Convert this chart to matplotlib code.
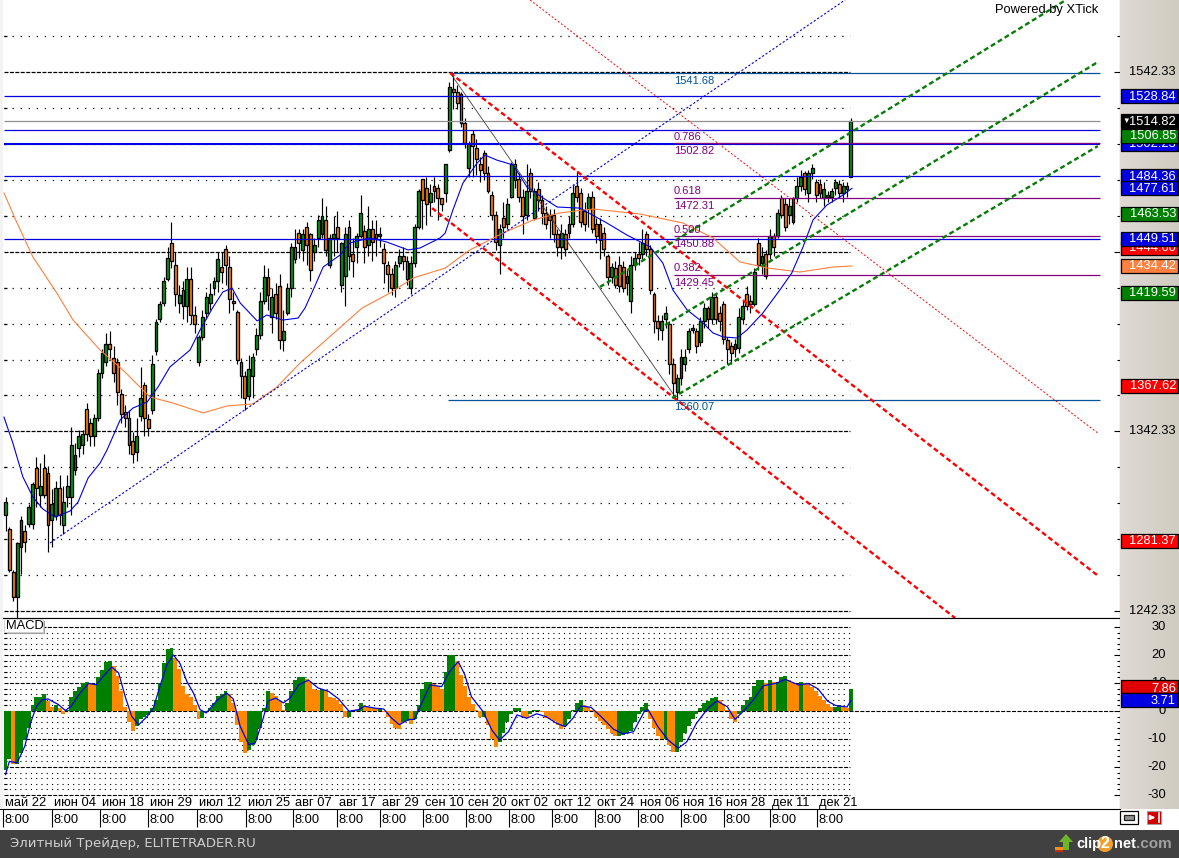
import numpy as np
import matplotlib
matplotlib.use('Agg')
import matplotlib.pyplot as plt
from matplotlib.colors import LinearSegmentedColormap
from matplotlib.patches import Rectangle, Polygon, Circle

plt.rcParams['font.family'] = ['Liberation Sans', 'DejaVu Sans']
plt.rcParams['lines.scale_dashes'] = False

# daily candles
opens = [1296,1288,1264,1250,1278,1287,1291,1291,1322,1307,1322,1319,1293,1295,1311,1290,1306,1306,1321,1333,
         1335,1355,1347,1340,1350,1375,1381,1391,1383,1381,1363,1353,1350,1337,1331,1351,1368,1349,1354,1387,
         1405,1414,1427,1447,1435,1414,1421,1412,1427,1407,1381,1395,1408,1414,1422,1426,1434,1444,1434,1415,
         1409,1381,1373,1362,1373,1388,1396,1415,1428,1406,1419,1423,1393,1408,1422,1445,1453,1443,1456,1452,
         1442,1450,1452,1460,1435,1450,1456,1424,1429,1456,1441,1445,1451,1454,1446,1455,1452,1451,1444,1435,
         1430,1422,1436,1440,1437,1422,1436,1456,1483,1478,1470,1479,1478,1472,1475,1499,1533,1531,1530,1514,
         1489,1508,1500,1491,1497,1486,1474,1463,1446,1461,1458,1473,1491,1483,1473,1463,1486,1461,1477,1471,
         1464,1463,1463,1452,1445,1452,1453,1458,1479,1475,1465,1466,1473,1458,1458,1453,1440,1428,1433,1435,
         1434,1425,1415,1435,1441,1441,1452,1444,1419,1404,1399,1405,1402,1380,1364,1372,1380,1388,1399,1398,
         1392,1404,1411,1405,1417,1408,1413,1393,1390,1388,1389,1405,1419,1415,1413,1447,1436,1441,1441,1451,
         1451,1472,1469,1463,1459,1472,1479,1486,1475,1486,1481,1480,1472,1473,1473,1478,1480,1475,1479,1484]
highs = [1306,1289,1265,1281,1295,1290,1302,1314,1328,1325,1330,1323,1310,1315,1318,1312,1318,1345,1336,1343,
         1343,1358,1350,1352,1377,1388,1397,1398,1390,1383,1366,1357,1354,1342,1350,1378,1370,1352,1385,1405,
         1415,1428,1445,1459,1442,1424,1426,1434,1434,1412,1396,1410,1420,1425,1428,1442,1442,1446,1440,1420,
         1410,1383,1376,1385,1386,1400,1420,1435,1433,1422,1425,1430,1410,1425,1447,1455,1455,1455,1459,1453,
         1450,1463,1472,1468,1452,1462,1465,1448,1456,1460,1450,1453,1474,1457,1468,1460,1460,1456,1447,1437,
         1433,1437,1444,1445,1440,1440,1458,1477,1483,1484,1480,1484,1480,1472,1491,1537,1541.7,1535,1531,1517,
         1504,1510,1505,1495,1499,1490,1476,1465,1458,1470,1472,1492,1494,1486,1477,1491,1489,1478,1481,1474,
         1468,1466,1466,1455,1458,1455,1462,1480,1487,1478,1470,1475,1476,1461,1461,1456,1441,1436,1437,1440,
         1437,1432,1440,1442,1448,1455,1454,1446,1420,1407,1407,1412,1404,1383,1374,1388,1388,1400,1402,1400,
         1406,1414,1412,1420,1419,1412,1415,1395,1392,1394,1411,1415,1423,1418,1433,1450,1445,1443,1455,1453,
         1466,1474,1472,1472,1473,1484,1488,1487,1488,1491,1483,1483,1481,1476,1478,1483,1482,1481,1481,1517]
lows = [1287,1264,1248,1234,1263,1275,1289,1288,1300,1300,1305,1275,1278,1293,1290,1285,1300,1296,1318,1328,
        1330,1337,1334,1334,1348,1372,1379,1382,1370,1357,1347,1345,1330,1325,1326,1348,1340,1340,1352,1385,
        1403,1412,1426,1433,1412,1408,1405,1403,1402,1397,1379,1393,1405,1410,1418,1420,1425,1424,1408,1410,
        1380,1361,1354,1360,1361,1385,1394,1413,1410,1397,1405,1388,1387,1407,1417,1436,1439,1437,1435,1426,
        1437,1445,1450,1440,1433,1440,1442,1420,1412,1432,1428,1436,1450,1436,1440,1437,1440,1445,1425,1420,
        1418,1417,1434,1432,1424,1419,1434,1455,1455,1457,1462,1470,1460,1465,1470,1498,1522,1522,1512,1500,
        1484,1484,1485,1481,1482,1475,1460,1443,1430,1450,1455,1472,1478,1470,1452,1460,1472,1460,1465,1458,
        1455,1450,1448,1440,1438,1440,1450,1456,1470,1456,1454,1456,1453,1447,1438,1440,1424,1425,1422,1420,
        1420,1418,1408,1432,1435,1438,1440,1419,1397,1393,1393,1400,1374,1362,1360,1368,1376,1386,1397,1386,
        1390,1400,1400,1402,1402,1398,1391,1380,1380,1384,1386,1402,1410,1408,1412,1432,1430,1427,1438,1440,
        1450,1461,1454,1458,1458,1470,1476,1474,1470,1483,1470,1472,1468,1470,1470,1474,1472,1470,1473,1484]
closes = [1303,1265,1250,1280,1293,1281,1300,1313,1311,1312,1307,1290,1302,1311,1296,1303,1312,1335,1329,1340,
          1341,1341,1340,1350,1375,1386,1391,1388,1375,1364,1352,1350,1335,1330,1340,1361,1350,1344,1380,1403,
          1413,1426,1439,1437,1419,1418,1412,1427,1407,1402,1395,1406,1417,1419,1426,1438,1431,1435,1416,1414,
          1382,1373,1361,1377,1384,1396,1415,1428,1418,1417,1408,1393,1398,1422,1445,1438,1447,1452,1446,1432,
          1446,1460,1462,1443,1450,1452,1450,1447,1452,1440,1437,1451,1464,1445,1455,1448,1450,1452,1436,1430,
          1422,1435,1440,1437,1427,1436,1456,1476,1471,1469,1475,1476,1472,1469,1491,1534,1531,1525,1514,1503,
          1502,1501,1494,1488,1486,1476,1463,1448,1455,1456,1469,1491,1482,1473,1462,1476,1476,1476,1471,1464,
          1458,1460,1452,1445,1453,1444,1458,1475,1473,1459,1458,1473,1455,1451,1449,1444,1428,1434,1424,1423,
          1422,1429,1435,1439,1439,1447,1444,1421,1404,1400,1404,1408,1380,1369,1372,1384,1384,1398,1400,1390,
          1404,1411,1405,1417,1405,1404,1394,1388,1386,1391,1406,1412,1412,1413,1431,1435,1440,1429,1451,1445,
          1464,1463,1456,1468,1472,1479,1484,1477,1486,1489,1474,1475,1477,1474,1476,1481,1475,1479,1477,1514.8]

# moving averages as (bar, price) points
ma_fast_bar = [-0.4,1.9,4.5,7.1,9.7,12.8,16.7,18.8,21.4,24.5,26.3,29.7,33,36.7,39.5,42.6,47.8,50.4,53.8,56.3,58.7,60.8,65.2,67.7,71.9,75.8,
               77.6,79.7,82.3,86.7,89.2,94.4,98.8,104.3,107.4,112.6,113.9,115.9,118.5,122.2,124.2,127.3,131.5,135.1,139.3,142.9,148.8,155.8,
               161,167,170.3,172.9,176.6,179.9,183.3,185.9,189.5,192.1,196.2,200.6,203.7,206.6,209.2,212.8,217,219.3]
ma_fast = [1350.3,1335.9,1317,1305.8,1299.1,1294.7,1298,1303,1316.4,1324.7,1332,1348.7,1355.3,1358.7,1367,1378.2,1387.6,1398.8,1411.6,1419.9,1422.1,1413.8,1403.8,1407.1,1404.3,1405.4,
           1411,1421,1433.8,1440.5,1447.2,1450,1447.7,1443.3,1444.4,1450,1452.7,1465.5,1480.5,1491.7,1496.1,1493.3,1490.6,1478.3,1472.2,1467.2,1466.6,1458.3,
           1451.6,1445,1436,1421,1409.9,1404.3,1397.1,1394.9,1394.3,1398.8,1408.2,1421,1430.5,1444.9,1460,1468.3,1473.9,1477.6]
ma_slow_bar = [-0.4,3,7.1,13.3,17.5,24.5,30.4,37.4,43.4,51.2,57.4,64.1,70.3,76.3,92.4,99.6,105.6,113.9,120.3,128.9,136.7,143.6,152.2,164.4,175.5,183.3,190.3,197.3,205.8,214.4,219.3]
ma_slow = [1475,1458.3,1439.4,1419.3,1404.3,1387.6,1376.5,1361.5,1358.1,1352.6,1356.5,1357.6,1367,1380.4,1411,1419.3,1427.7,1433.2,1443.3,1452.7,1460,1463.9,1466.1,1463.3,1458.3,1450,1436.6,1433.3,1431,1433.8,1434.4]

# MACD histogram, one value per candle
macd_hist = [-21,-17,-19,-19,-15,-10.5,-6,2,5,5,6,3.5,1.5,2,1,-1,0.5,5,7,8.5,
             10,10.3,10,9.5,12,14.5,17.5,18,16,12.5,7,1.5,-4,-7,-5.5,-3,-2,-1.5,1,4,
             10,17,22,22.5,19,15,9,6,5,2,-3,-2.5,-0.5,1,3,5.5,6,7,6,3,
             -5,-11,-15,-14,-12,-10,-6,1,7,6.5,5.5,3.5,0.5,3,7,11,12,12,11.5,10.5,
             8,7.5,8,7.5,5,4.5,4,2.5,-2,-2,0.3,0.3,3,2.2,1.5,1.2,1,1,-0.5,-2,
             -4.5,-6,-6.5,-4,-3.5,-4.5,-3,2,8,10.5,10.5,9.5,9,8,14,20,20,18,13,9,
             5,2.5,0.5,-2,-2,-5,-10,-13,-11,-8,-4,-1,1,1,-2,-2.5,-1,0.5,0.5,-0.5,
             -2.5,-3,-3.5,-5,-6.5,-5.5,-3,0.5,3,4,2,1.5,0.5,-2,-3.5,-5,-6.5,-8,-9,-9,
             -8.5,-8,-7,-4,-1,1.5,3,-3,-6,-9,-10,-10,-12,-14.5,-14.5,-11,-8,-5.5,-3,-1,
             1,3,3.5,4.5,5,4,2.5,0.5,-3,-4,-1,2,4,5,9,11,11,10,11,10.5,
             10.5,12,12.5,11,10,9.3,10.3,10,9.5,8.5,7,5.5,4,2.5,1.5,1.5,2,1.8,1.2,7.86]
signal_bar = [0,1,3,5,6.5,8,9.5,11,13.7,15.5,17,19.3,21.5,23.6,25.3,27.5,29.3,31,32.7,34.5,36.6,38.3,40,41.8,43.5,45.2,47,48.7,50.4,52,54.8,57.3,59,60.8,63,64.7,66.4,68,70,72,73.7,76,78.5,81,83.7,86.3,89,91.5,93,95.8,98,100,102,
              104.5,106,108,110,113,115,117.3,119,120.7,123.7,126,128,130.3,132.5,135,137.6,140,142.8,145,147,149,151.7,154.3,157.5,160,162.7,165.6,166.5,169,171.7,174.3,176.5,179,182,184.3,187,189,191.5,193.7,196.3,199.7,202,205.4,208,210.5,213,215,218,219]
signal = [-22.7,-18,-18.5,-12.6,-4.3,1.7,4,4.3,2.3,0.2,1.7,6.4,9.8,9.4,12.4,15.7,13.6,5.2,-1.9,-4.9,-2.1,1,8.8,16.5,20,17,10.5,6.4,0.5,-0.7,3.8,6.4,4.3,-5.5,-12,-11.4,-4.3,3.5,4.6,2.9,4.6,9.4,11,8.2,7,4.3,-0.1,0.5,1.7,1,0.7,-2.5,-4.9,
          -3,-3,3.3,9.3,8.7,14,17.6,12.9,5.1,-0.2,-6.8,-10.4,-7.4,-1.4,-2.6,-1,-2,-4.4,-5.6,-2.6,1.8,1.3,-2,-6.5,-8.2,-7.4,0.1,0.4,-5.6,-10.4,-13.3,-11,-4.4,1,3.6,1.5,-3,0.4,3.9,9,9.9,11.3,9.3,9.8,7.9,3.5,2,1.4,3.71]

# levels and drawn lines
blue_levels = [1528.84, 1510.0, 1484.36, 1449.51]
blue_level_strong = 1502.23
last_level = 1514.82
top_level, bottom_level = 1541.68, 1360.07
fib_levels = [1502.82, 1472.31, 1450.88, 1429.45]
fib_names = ['0.786', '0.618', '0.500', '0.382']
fan_blue = ([11.5, 217.5], [1280.2, 1582.4])
fan_red = ([135.9, 283.0], [1582.4, 1341.4])
diag_thin = ([115.2, 173.7], [1541.8, 1360.9])
red_upper = ([115.2, 282.8], [1541.8, 1262.4])
red_lower = ([110.5, 246.0], [1466.6, 1238.5])
green_top = ([154.0, 274.7], [1422.7, 1582.4])
green_mid = ([170.9, 283.0], [1401.5, 1547.9])
green_low = ([172.7, 283.0], [1360.9, 1501.1])

# axis labels
date_bars = [-0.6,12,24.5,37,49.6,62.3,74.5,85.9,97,108.2,119.3,130.4,141.6,152.7,163.9,175,186.1,198,210.2]
date_labels = ['май 22','июн 04','июн 18','июн 29','июл 12','июл 25','авг 07','авг 17','авг 29','сен 10',
               'сен 20','окт 02','окт 12','окт 24','ноя 06','ноя 16','ноя 28','дек 11','дек 21']
price_major = [1242.33, 1342.33, 1442.33, 1542.33]
price_minor = [1262.33,1282.33,1302.33,1322.33,1362.33,1382.33,1402.33,1422.33,1462.33,1482.33,1502.33,1522.33,1562.33]
side_values = [1528.84, 1502.23, 1506.85, 1484.36, 1477.61, 1463.53, 1444.60, 1449.51, 1434.42, 1419.59, 1367.62, 1281.37, 1514.82]
side_colors = ['#0000e0','#0000e0','#008000','#0000e0','#0000e0','#008000','#ff0000','#0000e0','#ff8040','#008000','#ff0000','#ff0000','#000000']
macd_major = [30, 20, 10, 0, -10, -20, -30]
macd_minor = [28,26,24,22,18,16,14,12,8,6,4,2,-2,-4,-6,-8,-12,-14,-16,-18,-22,-24,-26,-28]

W, H = 1179, 858
GREEN, ORANGE = '#00a010', '#ff8000'
BAR_PX, BAR0 = 3.86, 5.5
PX_PER_PRICE = 1.797
FS = 9.3

fig = plt.figure(figsize=(W / 100, H / 100), dpi=100, facecolor='white')

def px_axes(x0, y0, x1, y1):
    return fig.add_axes([x0 / W, 1 - y1 / H, (x1 - x0) / W, (y1 - y0) / H])

bars = np.arange(len(closes))
xlim = (-BAR0 / BAR_PX, (1120 - BAR0) / BAR_PX)
dots = (0, (0.9, 4.9))
dash = (0, (2.9, 1.0))
grid_end = 218.8

# price panel
ax = px_axes(0, 0, 1120, 618)
ax.set_xlim(xlim)
ax.set_ylim(1542.33 - 546 / PX_PER_PRICE, 1542.33 + 72 / PX_PER_PRICE)
for s in ['top', 'left']:
    ax.spines[s].set_visible(False)
ax.set_xticks([])
ax.yaxis.tick_right()
ax.set_yticks(price_major)
ax.set_yticks(price_minor, minor=True)
ax.tick_params(axis='y', which='major', direction='in', length=4.3, width=0.8, labelright=False)
ax.tick_params(axis='y', which='minor', direction='in', length=2.2, width=0.8)

ax.hlines(price_minor, -0.4, grid_end, color='black', lw=0.9, linestyle=dots, zorder=1)
ax.hlines(price_minor, -0.4, 0.3, color='black', lw=0.9, zorder=1)
ax.hlines(price_major, -0.4, grid_end, color='black', lw=0.9, linestyle=dash, zorder=1)

is_up = np.array(closes) >= np.array(opens)
colors = [GREEN if u else ORANGE for u in is_up]
ax.vlines(bars, lows, highs, color='black', lw=0.85, zorder=2)
ax.bar(bars, np.array(closes) - np.array(opens), bottom=opens, width=0.74, color=colors,
       edgecolor='black', linewidth=0.95, zorder=3)

line_end = 283.5
ax.hlines(blue_levels, -0.4, line_end, color='#0000e0', lw=0.9, zorder=4)
ax.hlines(blue_level_strong, -0.4, line_end, color='#0000e0', lw=1.5, zorder=4)
ax.hlines(last_level, -0.4, line_end, color='#909090', lw=0.9, zorder=4)
ax.hlines(top_level, 115.2, line_end, color='#00529b', lw=0.9, zorder=4)
ax.hlines(bottom_level, 114.6, line_end, color='#00529b', lw=0.9, zorder=4)
ax.hlines(fib_levels, 173.2, line_end, color='#800080', lw=0.9, zorder=4)

ax.plot(ma_slow_bar, ma_slow, color='#ff7f3f', lw=0.8, zorder=5)
ax.plot(ma_fast_bar, ma_fast, color='#0000e0', lw=0.8, zorder=5)
ax.plot(*fan_blue, color='#0000e0', lw=0.8, linestyle=(0, (1.6, 1.4)), zorder=5)
ax.plot(*fan_red, color='#ff0000', lw=0.7, linestyle=(0, (1.4, 1.4)), zorder=5)
ax.plot(*diag_thin, color='#404040', lw=0.6, zorder=5)
ax.plot(*red_upper, color='#ff0000', lw=1.7, linestyle=(0, (3.6, 2.2)), zorder=6)
ax.plot(*red_lower, color='#ff0000', lw=1.7, linestyle=(0, (3.6, 2.2)), zorder=6)
for line in [green_top, green_mid, green_low]:
    ax.plot(*line, color='#087a08', lw=1.7, linestyle=(0, (3.6, 2.2)), zorder=6)

label_bar = 173.2
for lev, name in zip(fib_levels, fib_names):
    ax.annotate(name, (label_bar, lev), xytext=(0, 1), textcoords='offset points', fontsize=8,
                color='#800080', va='bottom', zorder=7)
    ax.annotate(f'{lev:.2f}', (label_bar, lev), xytext=(0, -2), textcoords='offset points', fontsize=8,
                color='#800080', va='top', zorder=7)
for lev in [top_level, bottom_level]:
    ax.annotate(f'{lev:.2f}', (label_bar, lev), xytext=(0, -2), textcoords='offset points', fontsize=8,
                color='#00529b', va='top', zorder=7)

# MACD panel
ax2 = px_axes(0, 618, 1120, 809)
ax2.set_xlim(xlim)
ax2.set_ylim(-35, 33.2)
ax2.spines['left'].set_visible(False)
ax2.set_xticks([])
ax2.yaxis.tick_right()
ax2.set_yticks(macd_major)
ax2.set_yticks(macd_minor, minor=True)
ax2.tick_params(axis='y', which='major', direction='in', length=4.3, width=0.8, labelright=False)
ax2.tick_params(axis='y', which='minor', direction='in', length=2.2, width=0.8)

ax2.hlines(macd_minor, -0.4, grid_end, color='black', lw=0.8, linestyle=(0, (0.8, 3.0)), zorder=1)
ax2.hlines(macd_minor, -0.4, 0.4, color='black', lw=0.8, zorder=1)
ax2.hlines([v for v in macd_major if v != 0], -0.4, grid_end, color='black', lw=0.8, linestyle=dash, zorder=1)
ax2.hlines(0, -0.4, 287, color='black', lw=0.8, linestyle=dash, zorder=1)
# green while the histogram rises, orange while it falls
hist_up = np.diff(macd_hist, prepend=macd_hist[0]) >= 0
hist_colors = ['#008000' if u else '#ff8800' for u in hist_up]
ax2.bar(bars, macd_hist, width=1.02, color=hist_colors, linewidth=0, zorder=2)
ax2.plot(signal_bar, signal, color='#0000e0', lw=0.9, zorder=3)
for b, lab in zip(date_bars, date_labels):
    ax2.text(b + 0.5, -32.7, lab, fontsize=FS, va='center', ha='left', zorder=4)

# time row under the panels
ax3 = px_axes(0, 809, 1120, 829)
ax3.set_xlim(xlim)
ax3.set_ylim(1, 0)
ax3.axis('off')
ax3.vlines(date_bars, 0, 0.9, color='black', lw=0.8)
for b in date_bars:
    ax3.text(b + 0.4, 0.56, '8:00', fontsize=FS, va='center', ha='left')

# right scale panels
side_cmap = LinearSegmentedColormap.from_list('side', ['#e0d9d4', '#cfccc1'])
grad = np.linspace(0, 1, 60).reshape(1, -1)

side = px_axes(1120, 0, 1179, 618)
side.imshow(grad, extent=[0, 1, ax.get_ylim()[0], ax.get_ylim()[1]], aspect='auto', cmap=side_cmap, zorder=0)
side.set_xlim(0, 1)
side.set_ylim(ax.get_ylim())
side.axis('off')
for v in price_major:
    side.text(0.95, v, f'{v:.2f}', fontsize=FS, ha='right', va='center', zorder=1)
for i, (v, c) in enumerate(zip(side_values, side_colors)):
    side.add_patch(Rectangle((0.01, v - 3.9), 0.975, 7.8, fc=c, ec='black', lw=0.9, zorder=2 + i))
    side.text(0.95, v - 0.2, f'{v:.2f}', fontsize=FS, color='white', ha='right', va='center', zorder=2 + i,
              clip_on=True)
side.text(0.1, last_level, '▼', fontsize=5.5, color='white', ha='center', va='center', zorder=30)

side2 = px_axes(1120, 618, 1179, 809)
side2.imshow(grad, extent=[0, 1, -35, 33.2], aspect='auto', cmap=side_cmap, zorder=0)
side2.set_xlim(0, 1)
side2.set_ylim(-35, 33.2)
side2.axis('off')
for v in macd_major:
    side2.text(0.78, v, str(v), fontsize=FS, ha='right', va='center', zorder=1)
side2.add_patch(Rectangle((0.01, 6.5), 0.975, 4.4, fc='#e00000', ec='black', lw=0.9, zorder=2))
side2.text(0.95, 7.86, '7.86', fontsize=FS, color='white', ha='right', va='center', zorder=3)
side2.add_patch(Rectangle((0.01, 1.5), 0.975, 5.0, fc='#0000e0', ec='black', lw=0.9, zorder=4))
side2.text(0.95, 3.71, '3.71', fontsize=FS, color='white', ha='right', va='center', zorder=5)

# window furniture on top, in pixel coordinates
top = fig.add_axes([0, 0, 1, 1])
top.set_xlim(0, W)
top.set_ylim(H, 0)
top.axis('off')
top.patch.set_alpha(0)
top.add_patch(Rectangle((0, 0), 3, 809, fc='#f3f3f3', ec='none'))
top.add_patch(Rectangle((0, 830), W, 28, fc='#414141', ec='none'))
top.text(10, 844, 'Элитный Трейдер, ELITETRADER.RU', family='DejaVu Sans', fontsize=9.5, color='#cfcfcf', va='center')
top.text(995, 10, 'Powered by XTick', fontsize=FS, va='center')

top.add_patch(Rectangle((7, 621), 38, 13, fc='#a0a0a0', ec='none'))
top.add_patch(Rectangle((4, 619), 39, 13, fc='white', ec='#d0d0d0', lw=0.6))
top.text(6, 626, 'MACD', fontsize=FS, va='center')

# chain and exit buttons
top.add_patch(Rectangle((1120, 811), 18, 13, fc='white', ec='black', lw=0.9))
top.add_patch(Rectangle((1124, 815), 10, 5, fc='#909090', ec='#202020', lw=0.9))
top.add_patch(Rectangle((1147, 811), 14, 13, fc='#d00000', ec='#a0a0a0', lw=0.6))
top.annotate('', xy=(1158, 817.5), xytext=(1149, 817.5),
             arrowprops=dict(arrowstyle='-|>', color='white', lw=1.2, mutation_scale=7))
top.plot([1159, 1159], [813, 822], color='white', lw=1.2)

# clip2net logo
top.add_patch(Polygon([[1066, 834], [1073, 842], [1069, 842], [1069, 850], [1063, 850], [1063, 842], [1059, 842]],
                      fc='#6fb52c', ec='none'))
top.add_patch(Rectangle((1055, 847), 8, 3, fc='#f09020', ec='none'))
top.add_patch(Rectangle((1055, 850), 8, 2, fc='#c03010', ec='none'))
top.text(1076, 844, 'clip', fontsize=10.5, fontweight='bold', color='white', va='center')
top.add_patch(Circle((1105, 844), 8, fc='#f0a030', ec='none'))
top.text(1105, 844, '2', fontsize=11.5, fontweight='bold', color='white', va='center', ha='center')
top.text(1114, 844, 'net', fontsize=10.5, fontweight='bold', color='white', va='center')
top.text(1136, 844, '.com', fontsize=11, fontweight='bold', color='#a0a0a0', va='center')

fig.savefig('out.png', dpi=100)
